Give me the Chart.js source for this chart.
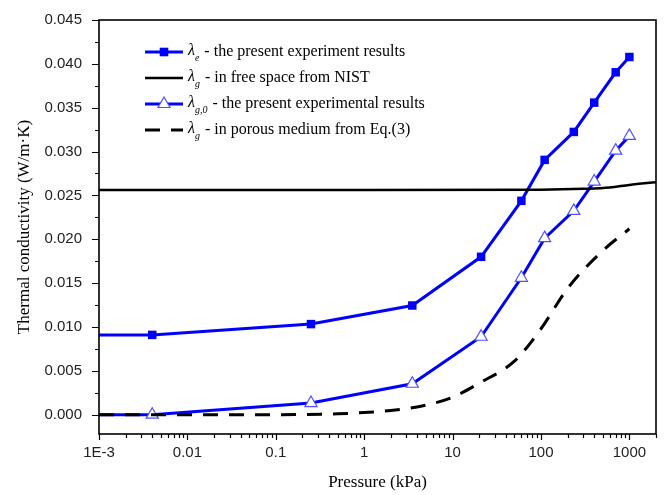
<!DOCTYPE html>
<html>
<head>
<meta charset="utf-8">
<script src="https://cdn.jsdelivr.net/npm/chart.js@4.4.1/dist/chart.umd.min.js"></script>
<style>
html, body { margin: 0; padding: 0; background: #fff; }
</style>
</head>
<body>
<canvas id="myChart" width="665" height="495"></canvas>
<script>
// pressure (kPa) of the measured points, shared by both blue series
var pressure = [0.001, 0.004, 0.25, 3.5, 21, 60, 110, 235, 400, 700, 1000];
var lambdaE  = [0.0091, 0.0091, 0.01033, 0.01245, 0.0180, 0.02438, 0.02905, 0.03224, 0.03558, 0.03904, 0.04078];
var lambdaG0 = [0.0000, 0.0000, 0.00133, 0.00353, 0.00889, 0.01561, 0.02013, 0.02324, 0.02658, 0.03011, 0.03178];

var nistP = [0.001, 0.3, 100, 300, 600, 1000, 2000];
var nistK = [0.02562, 0.02563, 0.02566, 0.02575, 0.0259, 0.0262, 0.0265];

var porousP = [0.001, 0.1, 0.5, 1, 2, 5, 10, 20, 50, 100, 200, 500, 1000];
var porousK = [0, 0, 0.0001, 0.00025, 0.00048, 0.0011, 0.0020, 0.0036, 0.0061, 0.0098, 0.0144, 0.0187, 0.0212];

var xTicks = [0.001, 0.01, 0.1, 1, 10, 100, 1000];
var yTicks = [0, 0.005, 0.010, 0.015, 0.020, 0.025, 0.030, 0.035, 0.040, 0.045];

var legendSubs  = ['e', 'g', 'g,0', 'g'];
var legendTexts = ['- the present experiment results', '- in free space from NIST',
                   '- the present experimental results', '- in porous medium from Eq.(3)'];

function pairs(xs, ys) {
    return xs.map(function(x, i) { return {x: x, y: ys[i]}; });
}

var BLUE = '#0000ff';

var frame = {
    id: 'frame',
    afterDraw: function(chart) {
        var c = chart.ctx, a = chart.chartArea,
            xs = chart.scales.x, ys = chart.scales.y;
        c.save();
        c.strokeStyle = '#000';
        c.lineWidth = 1.2;
        c.beginPath();
        for (var d = -3; d <= 3; d++) {
            for (var m = 1; m <= 9; m++) {
                var v = m * Math.pow(10, d);
                if (v > xs.max * 1.0001) break;
                var px = Math.round(xs.getPixelForValue(v)) + 0.5;
                c.moveTo(px, a.bottom);
                c.lineTo(px, a.bottom + (m === 1 ? 6 : 4));
            }
        }
        for (var i = 0; i <= 18; i++) {
            var py = Math.round(ys.getPixelForValue(i * 0.0025)) + 0.5;
            c.moveTo(a.left, py);
            c.lineTo(a.left - (i % 2 === 0 ? 7 : 4), py);
        }
        c.stroke();
        c.lineWidth = 1.6;
        c.strokeRect(a.left, a.top, a.right - a.left, a.bottom - a.top);
        c.restore();
    }
};

var legendBox = {
    id: 'legendBox',
    afterDraw: function(chart) {
        var c = chart.ctx, x0 = 145, x1 = 183, tx = 188, y0 = 52, dy = 26;
        c.save();
        chart.data.datasets.forEach(function(ds, i) {
            var y = y0 + i * dy;
            c.strokeStyle = ds.borderColor;
            c.lineWidth = ds.borderWidth;
            c.setLineDash(ds.borderDash || []);
            c.beginPath();
            c.moveTo(x0, y);
            c.lineTo(x1, y);
            c.stroke();
            c.setLineDash([]);
            var cx = (x0 + x1) / 2;
            if (ds.pointStyle === 'rect') {
                c.fillStyle = ds.pointBackgroundColor;
                c.fillRect(cx - 4.3, y - 4.3, 8.6, 8.6);
            } else if (ds.pointStyle === 'triangle') {
                var r = 7;
                c.beginPath();
                c.moveTo(cx, y - r);
                c.lineTo(cx + r * 0.866, y + r * 0.5);
                c.lineTo(cx - r * 0.866, y + r * 0.5);
                c.closePath();
                c.fillStyle = '#fff';
                c.fill();
                c.strokeStyle = ds.pointBorderColor;
                c.lineWidth = 1.2;
                c.stroke();
            }
            c.fillStyle = '#000';
            c.textBaseline = 'middle';
            c.font = 'italic 16px "Liberation Serif"';
            c.fillText('\u03bb', tx, y - 1);
            var w = c.measureText('\u03bb').width;
            c.font = 'italic 10px "Liberation Serif"';
            c.fillText(legendSubs[i], tx + w, y + 6);
            var sw = c.measureText(legendSubs[i]).width;
            c.font = '16px "Liberation Serif"';
            c.fillText(legendTexts[i], tx + w + sw + 5, y);
        });
        c.restore();
    }
};

var myChart = new Chart(document.getElementById('myChart'), {
    type: 'line',
    data: {
        datasets: [{
            data: pairs(pressure, lambdaE),
            borderColor: BLUE,
            borderWidth: 3,
            pointStyle: 'rect',
            pointRadius: pressure.map(function(p, i) { return i === 0 ? 0 : 6; }),
            pointBackgroundColor: BLUE,
            pointBorderColor: BLUE,
            pointBorderWidth: 0,
            order: 2
        }, {
            data: pairs(nistP, nistK),
            borderColor: '#000',
            borderWidth: 2.5,
            pointRadius: 0,
            cubicInterpolationMode: 'monotone',
            order: 0
        }, {
            data: pairs(pressure, lambdaG0),
            borderColor: BLUE,
            borderWidth: 3,
            pointStyle: 'triangle',
            pointRadius: pressure.map(function(p, i) { return i === 0 ? 0 : 7; }),
            pointBackgroundColor: '#fff',
            pointBorderColor: '#5050ff',
            pointBorderWidth: 1.2,
            order: 1
        }, {
            data: pairs(porousP, porousK),
            borderColor: '#000',
            borderWidth: 3,
            borderDash: [15, 11],
            pointRadius: 0,
            cubicInterpolationMode: 'monotone',
            order: 0
        }]
    },
    options: {
        animation: false,
        responsive: false,
        devicePixelRatio: 1,
        layout: { padding: { top: 20, right: 9, left: 0, bottom: 0 } },
        plugins: { legend: { display: false }, tooltip: { enabled: false } },
        scales: {
            x: {
                type: 'logarithmic',
                min: 0.001,
                max: 2000,
                afterBuildTicks: function(s) { s.ticks = xTicks.map(function(v) { return {value: v}; }); },
                afterFit: function(s) { s.height = 61; },
                grid: { display: false, drawTicks: true, tickLength: 6 },
                border: { display: false },
                ticks: {
                    autoSkip: false,
                    maxRotation: 0,
                    padding: 4,
                    color: '#222',
                    font: { family: '"Liberation Sans"', size: 15 },
                    callback: function(v) { return v === 0.001 ? '1E-3' : String(v); }
                },
                title: {
                    display: true,
                    text: 'Pressure (kPa)',
                    color: '#000',
                    font: { family: '"Liberation Serif"', size: 17, lineHeight: 1 },
                    padding: { top: 0, bottom: 3.5 }
                }
            },
            y: {
                min: -0.0022,
                max: 0.045,
                afterBuildTicks: function(s) { s.ticks = yTicks.map(function(v) { return {value: v}; }); },
                afterFit: function(s) { s.width = 99; },
                grid: { display: false, drawTicks: true, tickLength: 8 },
                border: { display: false },
                ticks: {
                    padding: 9,
                    color: '#222',
                    font: { family: '"Liberation Sans"', size: 15 },
                    callback: function(v) { return v.toFixed(3); }
                },
                title: {
                    display: true,
                    text: 'Thermal conductivity (W/m\u00b7K)',
                    color: '#000',
                    font: { family: '"Liberation Serif"', size: 17, lineHeight: 1 },
                    padding: { top: 16.5, bottom: 0 }
                }
            }
        }
    },
    plugins: [frame, legendBox]
});
</script>
</body>
</html>
